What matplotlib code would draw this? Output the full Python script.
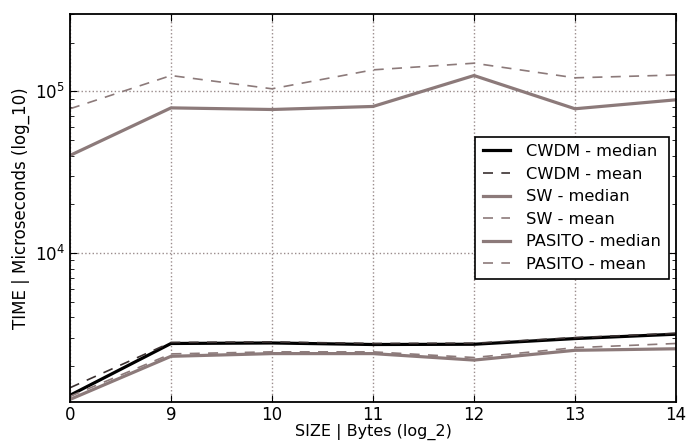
import matplotlib
matplotlib.use("Agg")
import matplotlib.pyplot as plt
import numpy as np

# x categories (log_2 of size in bytes)
sizes = ["0", "9", "10", "11", "12", "13", "14"]

cwdm_median = [1320, 2760, 2780, 2720, 2730, 2960, 3150]
cwdm_mean = [1470, 2800, 2820, 2760, 2770, 3000, 3190]
sw_median = [40100, 78900, 77100, 80500, 125000, 77900, 88500]
sw_mean = [77900, 125000, 103500, 135500, 149000, 121000, 126000]
pasito_median = [1245, 2300, 2390, 2390, 2180, 2505, 2560]
pasito_mean = [1300, 2380, 2450, 2450, 2260, 2600, 2760]

BLACK = "#000000"
GRAY = "#8c7a7a"

plt.rcParams['font.family'] = ['DejaVu Sans']

fig = plt.figure(figsize=(6.89, 4.45), dpi=100)
ax = fig.add_axes([0.1016, 0.0966, 0.8795, 0.8719])

x = np.arange(len(sizes))
ax.plot(x, cwdm_median, color=BLACK, lw=2.3, label="CWDM - median")
ax.plot(x, cwdm_mean, color="#3a3030", lw=1.2, ls=(0, (6, 5)), label="CWDM - mean")
ax.plot(x, sw_median, color=GRAY, lw=2.3, label="SW - median")
ax.plot(x, sw_mean, color=GRAY, lw=1.2, ls=(0, (6, 5)), label="SW - mean")
ax.plot(x, pasito_median, color=GRAY, lw=2.3, label="PASITO - median")
ax.plot(x, pasito_mean, color=GRAY, lw=1.2, ls=(0, (6, 5)), label="PASITO - mean")

ax.set_yscale("log")
ax.set_ylim(1200, 3e5)
ax.set_xlim(0, len(sizes) - 1)
ax.set_xticks(x)
ax.set_xticklabels(sizes)

ax.grid(True, which="major", color="#9a8c8c", ls=":", lw=1.0)
ax.tick_params(which="both", direction="in", top=True, right=True, labelsize=12)
ax.tick_params(which="major", length=5)
ax.tick_params(which="minor", length=3)
ax.tick_params(axis="x", pad=3)
for s in ax.spines.values():
    s.set_linewidth(1.3)

ax.set_xlabel("SIZE | Bytes (log_2)", fontsize=11.5, labelpad=0)
ax.set_ylabel("TIME | Microseconds (log_10)", fontsize=12, labelpad=4)

leg = ax.legend(loc="center right", fontsize=11.7, fancybox=False, framealpha=1,
                handlelength=1.7, handletextpad=1.0, borderpad=0.45,
                borderaxespad=0.45, labelspacing=0.47)
leg.get_frame().set_edgecolor("black")
leg.get_frame().set_linewidth(1.2)

fig.savefig("out.png", dpi=100)
